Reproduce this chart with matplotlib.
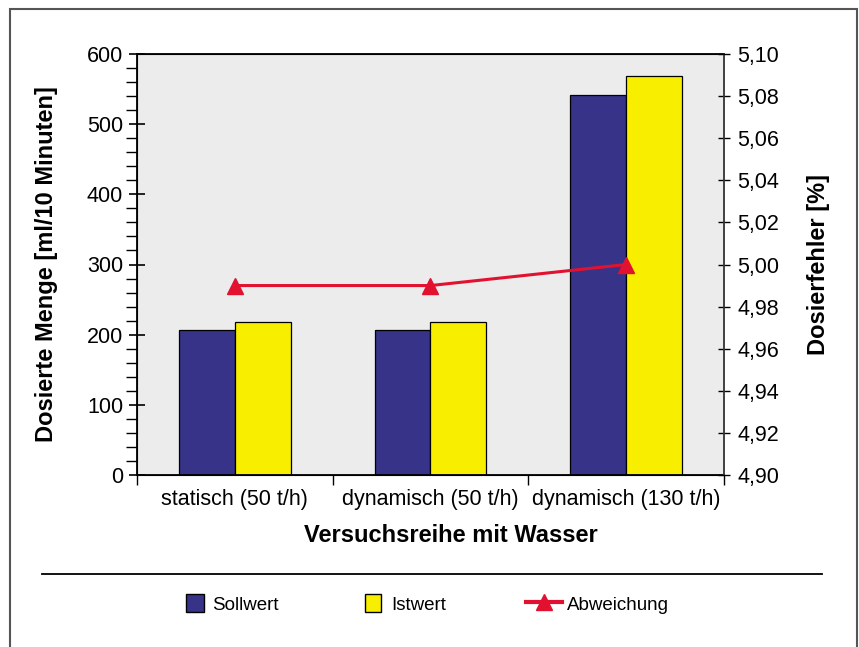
import numpy as np
import matplotlib
matplotlib.use('Agg')
import matplotlib.pyplot as plt
from matplotlib.ticker import FuncFormatter, MultipleLocator
from matplotlib.lines import Line2D
from matplotlib.patches import Rectangle, Patch

plt.rcParams['font.family'] = ['Liberation Sans', 'DejaVu Sans']

# Daten
kategorien = ['statisch (50 t/h)', 'dynamisch (50 t/h)', 'dynamisch (130 t/h)']
sollwert = [207, 207, 541]
istwert = [218, 218, 568]
abweichung = [4.99, 4.99, 5.00]

farbe_soll = '#363388'
farbe_ist = '#f7ee00'
farbe_abw = '#e2112f'

fig = plt.figure(figsize=(8.59, 6.47), dpi=100)
ax = fig.add_axes([137/859, 1-475/647, (724-137)/859, (475-54)/647])
ax.set_facecolor('#ececec')

x = np.arange(len(kategorien))
w = 0.286
ax.bar(x - w/2, sollwert, w, color=farbe_soll, edgecolor='black', linewidth=0.9, zorder=2)
ax.bar(x + w/2, istwert, w, color=farbe_ist, edgecolor='black', linewidth=0.9, zorder=2)

ax.set_xlim(-0.5, 2.5)
ax.set_ylim(0, 600)
ax.yaxis.set_major_locator(MultipleLocator(100))
ax.yaxis.set_minor_locator(MultipleLocator(20))
ax.tick_params(axis='y', which='major', direction='inout', length=12, width=1.2, labelsize=15.5, pad=4)
ax.tick_params(axis='y', which='minor', direction='out', length=8, width=1)
# Kategorie-Trennstriche und Beschriftungen
ax.set_xticks([-0.5, 0.5, 1.5, 2.5])
ax.set_xticklabels([])
ax.set_xticks(x, minor=True)
ax.set_xticklabels(kategorien, minor=True)
ax.tick_params(axis='x', which='major', direction='out', length=7, width=1)
ax.tick_params(axis='x', which='minor', length=0, labelsize=15.5, pad=10)
for s in ax.spines.values():
    s.set_linewidth(1.3)
ax.spines['right'].set_visible(False)

ax.set_ylabel('Dosierte Menge [ml/10 Minuten]', fontsize=17, fontweight='bold', labelpad=21)
ax.set_xlabel('Versuchsreihe mit Wasser', fontsize=17, fontweight='bold', labelpad=8)
ax.xaxis.set_label_coords((451-137)/587, -0.117)

ax2 = ax.twinx()
ax2.plot(x, abweichung, color=farbe_abw, linewidth=2.2, marker='^', markersize=12, zorder=3)
ax2.set_ylim(4.90, 5.10)
ax2.yaxis.set_major_locator(MultipleLocator(0.02))
ax2.yaxis.set_major_formatter(FuncFormatter(lambda v, p: f'{v:.2f}'.replace('.', ',')))
ax2.tick_params(axis='y', direction='inout', length=9, width=1, labelsize=15.5, pad=5)
ax2.spines['right'].set_linewidth(1.3)
ax2.spines['right'].set_color('#333333')
ax2.set_ylabel('Dosierfehler [%]', fontsize=17, fontweight='bold', labelpad=20)

# Trennlinie
fig.add_artist(Line2D([42/859, 822/859], [1-574/647, 1-574/647], color='black', linewidth=1.3))

# Legende: drei Einträge einzeln gesetzt
ly = 1 - 604/647
eintraege = [
    (Patch(facecolor=farbe_soll, edgecolor='black', linewidth=1), 'Sollwert', 186, 0.95, 0.45),
    (Patch(facecolor=farbe_ist, edgecolor='black', linewidth=1), 'Istwert', 365, 0.85, 0.55),
    (Line2D([], [], color=farbe_abw, linewidth=3, marker='^', markersize=12), 'Abweichung', 526, 1.9, 0.3),
]
for handle, text, xpos, hl, tp in eintraege:
    fig.legend([handle], [text], loc='center left', bbox_to_anchor=(xpos/859, ly),
               frameon=False, fontsize=13.5, handlelength=hl, handleheight=1.05,
               handletextpad=tp, borderpad=0, borderaxespad=0)

# Rahmen
fig.add_artist(Rectangle((10/859, -0.05), (857-10)/859, 1.05-9/647, transform=fig.transFigure,
                         fill=False, edgecolor='#555555', linewidth=1.5))

fig.savefig('out.png', dpi=100)
